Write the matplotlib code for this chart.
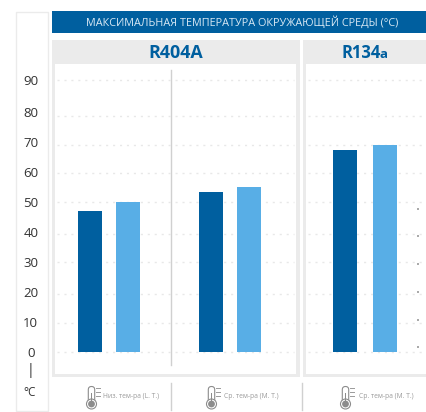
import matplotlib
matplotlib.use('Agg')
import matplotlib.pyplot as plt
from matplotlib.patches import Rectangle, Circle, FancyBboxPatch

W, H = 426, 412

# values
r404a_low = [47, 50]
r404a_med = [53.5, 55]
r134a_med = [67.5, 69]
grid_levels = [0, 9.6, 19.3, 30, 39.3, 50, 59.7, 69, 78.7, 90.7]
stray_dots = [47.7, 38.7, 29.3, 20, 10.7, 1.7]
y_ticks = [0, 10, 20, 30, 40, 50, 60, 70, 80, 90.7]
y_labels = ['0', '10', '20', '30', '40', '50', '60', '70', '80', '90']
title = 'МАКСИМАЛЬНАЯ ТЕМПЕРАТУРА ОКРУЖАЮЩЕЙ СРЕДЫ (°C)'
low_label = 'Низ. тем-ра (L. T.)'
med_label = 'Ср. тем-ра (M. T.)'

DARK = '#005f9f'
LIGHT = '#58aee6'
PANEL = '#ebebeb'

plt.rcParams['font.family'] = ['Open Sans', 'DejaVu Sans']

fig = plt.figure(figsize=(W / 100, H / 100), dpi=100)

# furniture in pixel coordinates
bg = fig.add_axes([0, 0, 1, 1])
bg.set_xlim(0, W)
bg.set_ylim(H, 0)
bg.axis('off')


def box(x0, y0, x1, y1, color):
    bg.add_patch(Rectangle((x0, y0), x1 - x0, y1 - y0, fc=color, ec='none'))


def thermometer(x):
    bg.add_patch(FancyBboxPatch((x - 3.2, 386.5), 6.4, 17, boxstyle='round,pad=0,rounding_size=3.2',
                                fc='white', ec='#8c8c8c', lw=0.8))
    bg.add_patch(Circle((x, 404), 5, fc='white', ec='#8c8c8c', lw=0.8))
    bg.add_patch(Circle((x, 404), 3.4, fc='#8c8c8c', ec='none'))
    bg.add_patch(Rectangle((x - 0.9, 393), 1.8, 10, fc='#8c8c8c', ec='none'))
    for y in (388, 392, 396):
        bg.plot([x + 4.5, x + 8.5], [y, y], color='#9a9a9a', lw=0.7)


# y label column
bg.add_patch(Rectangle((15.5, 11.5), 32, 399, fc='white', ec=PANEL, lw=1))
# title band
box(52, 11, W, 33, DARK)
bg.text(242, 22.5, title, color='#d8e8f4', fontsize=7.8, ha='center', va='center')

# panels
box(52, 40, 300, 377, PANEL)
box(55, 64, 296, 374, 'white')
box(303, 40, W, 377, PANEL)
box(306, 64, W, 374, 'white')
bg.text(176, 53, 'R404A', color=DARK, fontsize=12.9, fontweight='bold', ha='center', va='center')
bg.text(381, 53, 'R134', color=DARK, fontsize=12, fontweight='bold', ha='right', va='center')
bg.text(380, 54.5, 'a', color=DARK, fontsize=9.5, fontweight='bold', ha='left', va='center')

# dividers and bottom strip
bg.plot([170.5, 170.5], [70, 365], color='#d0d0d0', lw=1)
bg.plot([170.5, 170.5], [383, 410], color='#d0d0d0', lw=1)
bg.plot([301.5, 301.5], [383, 410], color='#d0d0d0', lw=1)

for x, label, lx in [(91.5, low_label, 103), (211.5, med_label, 224), (345.5, med_label, 359)]:
    thermometer(x)
    bg.text(lx, 397, label, color='#9a9a9a', fontsize=4.9, ha='left', va='center')

bg.text(31, 371, '|', color='#333333', fontsize=10, ha='center', va='center')
bg.text(30, 393, '°C', color='#333333', fontsize=8.5, ha='center', va='center')

# chart itself, y is in degrees: 30 px per 10 units, zero at y=352
x0, x1 = 55, W
top, bottom = 66, 372
ax = fig.add_axes([x0 / W, 1 - bottom / H, (x1 - x0) / W, (bottom - top) / H])
ax.patch.set_alpha(0)
ax.set_xlim(x0, x1)
ax.set_ylim((352 - bottom) / 3, (352 - top) / 3)
for s in ax.spines.values():
    s.set_visible(False)
ax.set_xticks([])
ax.set_yticks(y_ticks, y_labels)
ax.tick_params(axis='y', length=0, pad=17.5, labelsize=9.5, labelcolor='#333333')
for t in ax.get_yticklabels():
    t.set_ha('center')

for lv in grid_levels:
    ax.plot([57, 294], [lv, lv], color='#e8e8e8', lw=1, ls=(0, (1.5, 3.5)), zorder=1)
    ax.plot([308, 423], [lv, lv], color='#e8e8e8', lw=1, ls=(0, (1.5, 3.5)), zorder=1)

ax.bar([90, 128], r404a_low, width=24, color=[DARK, LIGHT], zorder=2)
ax.bar([211, 249], r404a_med, width=24, color=[DARK, LIGHT], zorder=2)
ax.bar([345, 385], r134a_med, width=24, color=[DARK, LIGHT], zorder=2)
ax.scatter([418] * len(stray_dots), stray_dots, s=1.2, color='#aaaaaa', marker='s', linewidths=0, zorder=2)

fig.savefig('out.png', dpi=100)
